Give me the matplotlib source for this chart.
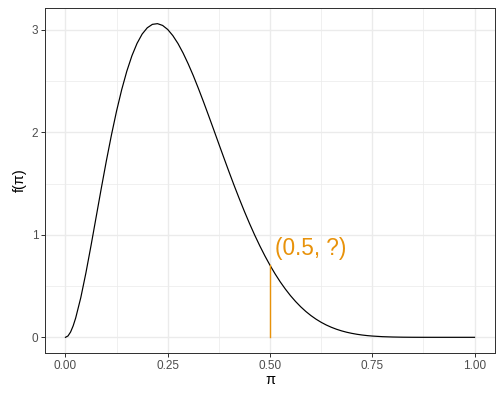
import numpy as np
import matplotlib.pyplot as plt

# density values
pi_vals = [0.0, 0.00625, 0.0125, 0.01875, 0.025, 0.0375, 0.05, 0.0625, 0.075,
           0.0875, 0.1, 0.1125, 0.125, 0.1375, 0.15, 0.1625, 0.175, 0.1875,
           0.2, 0.2125, 0.225, 0.2375, 0.25, 0.2625, 0.275, 0.2875, 0.3,
           0.3125, 0.325, 0.3375, 0.35, 0.3625, 0.375, 0.3875, 0.4, 0.4125,
           0.425, 0.4375, 0.45, 0.4625, 0.475, 0.4875, 0.5, 0.5125, 0.525,
           0.5375, 0.55, 0.5625, 0.575, 0.5875, 0.6, 0.6125, 0.625, 0.6375,
           0.65, 0.6625, 0.675, 0.6875, 0.7, 0.7125, 0.725, 0.7375, 0.75,
           0.775, 0.8, 0.825, 0.85, 0.875, 0.9, 0.95, 1.0]
dens = [0.0, 0.0135, 0.0515, 0.1109, 0.1885, 0.3874, 0.6285, 0.8951, 1.1733,
        1.4519, 1.7219, 1.9760, 2.2089, 2.4166, 2.5967, 2.7474, 2.8679, 2.9588,
        3.0199, 3.0534, 3.0602, 3.0429, 3.0033, 2.9435, 2.8668, 2.7740, 2.6683,
        2.5530, 2.4278, 2.2972, 2.1619, 2.0247, 1.8859, 1.7486, 1.6124, 1.4798,
        1.3516, 1.2278, 1.1099, 0.9982, 0.8930, 0.7947, 0.7031, 0.6188, 0.5412,
        0.4710, 0.4069, 0.3496, 0.2981, 0.2525, 0.2123, 0.1772, 0.1466, 0.1203,
        0.0979, 0.0788, 0.0628, 0.0495, 0.0386, 0.0297, 0.0225, 0.0168, 0.0124,
        0.0063, 0.0030, 0.0012, 0.0004, 0.0001, 0.0, 0.0, 0.0]
mark_x = 0.5
mark_y = 0.7031
label = "(0.5, ?)"
xticks = [0.0, 0.25, 0.5, 0.75, 1.0]
xtick_labels = ["0.00", "0.25", "0.50", "0.75", "1.00"]
yticks = [0, 1, 2, 3]

plt.rcParams['font.family'] = ['Liberation Sans', 'DejaVu Sans']
orange = "#E8920A"

fig = plt.figure(figsize=(7, 5.5), dpi=72)
ax = fig.add_axes([45/504, 1 - 353/396, 450/504, 345/396])

ax.plot(pi_vals, dens, color="black", lw=1.2)
ax.plot([mark_x, mark_x], [0, mark_y], color=orange, lw=1.4)
ax.text(mark_x + 0.012, 0.87, label, color=orange, fontsize=22.5, ha="left", va="center")

ax.set_xlim(-0.05, 1.05)
ax.set_ylim(-0.153, 3.213)
ax.set_xticks(xticks)
ax.set_xticklabels(xtick_labels)
ax.set_yticks(yticks)
ax.set_xticks([0.125, 0.375, 0.625, 0.875], minor=True)
ax.set_yticks([0.5, 1.5, 2.5], minor=True)
ax.grid(which="major", color="#EBEBEB", lw=1.4)
ax.grid(which="minor", color="#EBEBEB", lw=0.7)
ax.set_axisbelow(True)
ax.tick_params(which="major", length=3.7, color="#333333", width=1.0,
               labelsize=11.7, labelcolor="#4D4D4D", pad=3)
ax.tick_params(which="minor", length=0)
for s in ax.spines.values():
    s.set_color("#333333")
    s.set_linewidth(1.0)

ax.set_xlabel("π", fontsize=14.5, labelpad=1)
ax.set_ylabel("f(π)", fontsize=14.5, labelpad=5)

fig.savefig("out.png", dpi=72)
